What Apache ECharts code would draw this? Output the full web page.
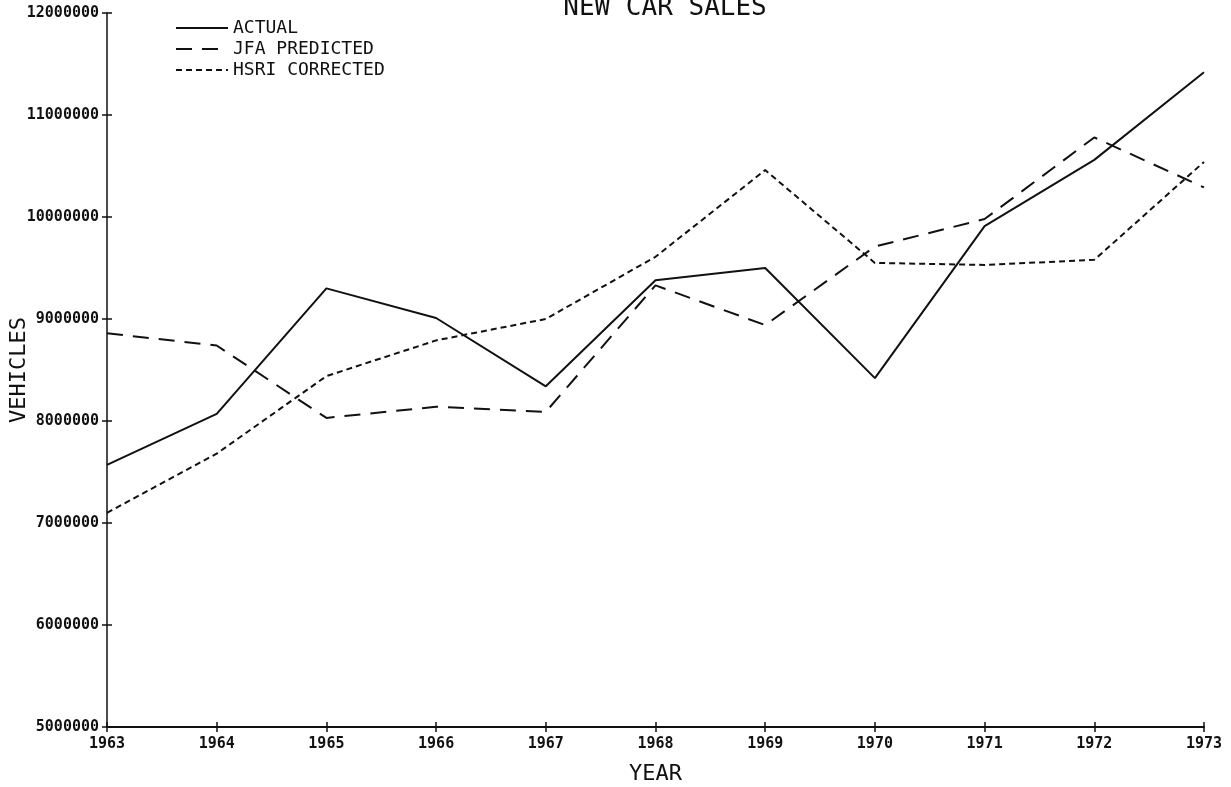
<!DOCTYPE html>
<html>
<head>
<meta charset="utf-8">
<script src="https://cdn.jsdelivr.net/npm/echarts@6/dist/echarts.min.js"></script>
<style>
  html, body { margin: 0; padding: 0; background: #fff; }
  #chart { width: 1231px; height: 787px; }
</style>
</head>
<body>
<div id="chart"></div>
<script>
// DATA
const years = ['1963', '1964', '1965', '1966', '1967', '1968', '1969', '1970', '1971', '1972', '1973'];
const actual = [7570000, 8070000, 9300000, 9010000, 8340000, 9380000, 9500000, 8420000, 9910000, 10560000, 11420000];
const jfaPredicted = [8860000, 8740000, 8030000, 8140000, 8090000, 9330000, 8940000, 9710000, 9980000, 10780000, 10290000];
const hsriCorrected = [7100000, 7680000, 8440000, 8790000, 9000000, 9610000, 10460000, 9550000, 9530000, 9580000, 10540000];

const plotFont = "'DejaVu Sans Mono', 'Liberation Mono', monospace";
const ink = '#111';

const chartPlaceholder = document.querySelector('#chart');
const salesChart = echarts.init(chartPlaceholder);

// plotter style ticks cross the axis, so a second bare axis draws the inner half
const bareAxis = {
    axisLine: { show: true, lineStyle: { color: 'rgba(0,0,0,0)' } },
    axisLabel: { show: false },
    splitLine: { show: false }
};

const salesOption = {
    backgroundColor: '#ffffff',
    animation: false,
    title: {
        text: 'NEW CAR SALES',
        left: 660,
        top: -10,
        textAlign: 'center',
        textStyle: {
            fontFamily: plotFont,
            fontWeight: 'normal',
            fontSize: 26,
            color: ink
        }
    },
    legend: {
        orient: 'vertical',
        left: 170,
        top: 14,
        itemWidth: 52,
        itemHeight: 14,
        itemGap: 3,
        itemStyle: { opacity: 0 },
        textStyle: {
            fontFamily: plotFont,
            fontSize: 18,
            color: ink
        },
        data: ['ACTUAL', 'JFA PREDICTED', 'HSRI CORRECTED']
    },
    grid: {
        left: 107,
        right: 27,
        top: 13,
        bottom: 60,
        outerBoundsMode: 'none'
    },
    xAxis: [
        {
            type: 'category',
            data: years,
            boundaryGap: false,
            name: 'YEAR',
            nameLocation: 'middle',
            nameGap: 36,
            nameTextStyle: {
                fontFamily: plotFont,
                fontSize: 22,
                color: ink
            },
            axisLine: { lineStyle: { color: ink, width: 2 } },
            axisTick: { alignWithLabel: true, length: 5, lineStyle: { color: ink, width: 1.5 } },
            axisLabel: {
                fontFamily: plotFont,
                fontSize: 15,
                fontWeight: 'bold',
                color: ink,
                margin: 10
            },
            splitLine: { show: false }
        },
        Object.assign({
            type: 'category',
            data: years,
            boundaryGap: false,
            position: 'bottom',
            axisTick: { show: true, inside: true, alignWithLabel: true, length: 5, lineStyle: { color: ink, width: 1.5 } }
        }, bareAxis)
    ],
    yAxis: [
        {
            type: 'value',
            min: 5000000,
            max: 12000000,
            interval: 1000000,
            name: 'VEHICLES',
            nameLocation: 'middle',
            nameGap: 77,
            nameMoveOverlap: false,
            nameTextStyle: {
                fontFamily: plotFont,
                fontSize: 22,
                color: ink
            },
            axisLine: { show: true, lineStyle: { color: ink, width: 1.5 } },
            axisTick: { show: true, length: 5, lineStyle: { color: ink, width: 1.5 } },
            axisLabel: {
                fontFamily: plotFont,
                fontSize: 15,
                fontWeight: 'bold',
                color: ink,
                margin: 8,
                formatter: function (value) {
                    return String(value);
                }
            },
            splitLine: { show: false }
        },
        Object.assign({
            type: 'value',
            min: 5000000,
            max: 12000000,
            interval: 1000000,
            position: 'left',
            axisTick: { show: true, inside: true, length: 5, lineStyle: { color: ink, width: 1.5 } }
        }, bareAxis)
    ],
    series: [
        {
            name: 'ACTUAL',
            type: 'line',
            data: actual,
            symbol: 'none',
            lineStyle: { color: ink, width: 2, type: 'solid' },
            itemStyle: { color: ink }
        },
        {
            name: 'JFA PREDICTED',
            type: 'line',
            data: jfaPredicted,
            symbol: 'none',
            lineStyle: { color: ink, width: 2, type: [16, 10] },
            itemStyle: { color: ink }
        },
        {
            name: 'HSRI CORRECTED',
            type: 'line',
            data: hsriCorrected,
            symbol: 'none',
            lineStyle: { color: ink, width: 2, type: [6, 4] },
            itemStyle: { color: ink }
        }
    ]
};

salesChart.setOption(salesOption);
</script>
</body>
</html>
